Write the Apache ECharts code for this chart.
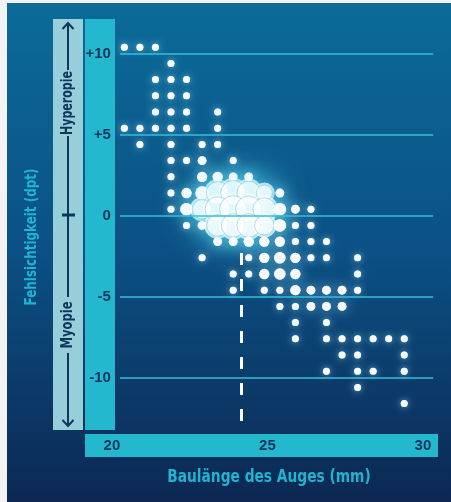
<!DOCTYPE html>
<html><head><meta charset="utf-8">
<script src="https://cdn.jsdelivr.net/npm/echarts@6/dist/echarts.min.js"></script>
<style>html,body{margin:0;padding:0;background:#f3f3f3;}#c{width:451px;height:502px;}</style>
</head><body><div id="c"></div>
<script>
const FONT = "'Liberation Sans',Arial,sans-serif";
const TFONT = "'DejaVu Sans Condensed','DejaVu Sans',sans-serif";
const xTicks = [20, 25, 30];
const yTicks = [-10, -5, 0, 5, 10];
const xTitle = 'Baulänge des Auges (mm)';
const yTitle = 'Fehlsichtigkeit (dpt)';
const upLabel = 'Hyperopie';
const downLabel = 'Myopie';

// one entry per dot: axial length (mm), refraction (dpt), number of eyes (dot size)
const axialLength = [
  20.4, 20.9, 21.4,
  21.9,
  21.4, 21.9, 22.4,
  21.4, 21.9, 22.4,
  21.4, 21.9, 22.4, 23.4,
  20.4, 20.9, 21.4, 21.9, 22.4, 23.4,
  20.9, 21.9, 22.9, 23.4,
  21.9, 22.4, 22.9, 23.9,
  21.9, 22.9, 23.4, 23.9, 24.4,
  21.9, 22.4, 22.9, 23.4, 23.9, 24.4, 24.9, 25.4,
  21.9, 22.4, 22.9, 23.4, 23.9, 24.4, 24.9, 25.4, 25.9, 26.4,
  22.4, 22.9, 23.4, 23.9, 24.4, 24.9, 25.4, 25.9, 26.4,
  23.4, 23.9, 24.4, 24.9, 25.4, 25.9, 26.4, 26.9,
  22.9, 24.4, 24.9, 25.4, 25.9, 26.4, 26.9, 27.9,
  23.9, 24.4, 24.9, 25.4, 25.9, 27.9,
  23.9, 24.9, 25.4, 25.9, 26.4, 26.9, 27.4, 27.9,
  25.4, 25.9, 26.4, 26.9, 27.4,
  25.9, 26.9,
  25.9, 26.9, 27.4, 27.9, 28.4, 28.9, 29.4,
  27.4, 27.9, 29.4,
  26.9, 27.9, 28.4, 29.4,
  27.9,
  29.4
];
const refraction = [
  10.4, 10.4, 10.4,
  9.4,
  8.4, 8.4, 8.4,
  7.4, 7.4, 7.4,
  6.4, 6.4, 6.4, 6.4,
  5.4, 5.4, 5.4, 5.4, 5.4, 5.4,
  4.4, 4.4, 4.4, 4.4,
  3.4, 3.4, 3.4, 3.4,
  2.4, 2.4, 2.4, 2.4, 2.4,
  1.4, 1.4, 1.4, 1.4, 1.4, 1.4, 1.4, 1.4,
  0.4, 0.4, 0.4, 0.4, 0.4, 0.4, 0.4, 0.4, 0.4, 0.4,
  -0.6, -0.6, -0.6, -0.6, -0.6, -0.6, -0.6, -0.6, -0.6,
  -1.6, -1.6, -1.6, -1.6, -1.6, -1.6, -1.6, -1.6,
  -2.6, -2.6, -2.6, -2.6, -2.6, -2.6, -2.6, -2.6,
  -3.6, -3.6, -3.6, -3.6, -3.6, -3.6,
  -4.6, -4.6, -4.6, -4.6, -4.6, -4.6, -4.6, -4.6,
  -5.6, -5.6, -5.6, -5.6, -5.6,
  -6.6, -6.6,
  -7.6, -7.6, -7.6, -7.6, -7.6, -7.6, -7.6,
  -8.6, -8.6, -8.6,
  -9.6, -9.6, -9.6, -9.6,
  -10.6,
  -11.6
];
const eyeCount = [
  1, 1, 1,
  1,
  1, 1, 1,
  1, 1, 1,
  1, 1, 1, 1,
  1, 1, 1, 1, 1, 1,
  1, 1, 1, 1,
  1, 1, 2, 1,
  1, 3, 3, 2, 2,
  1, 3, 6, 20, 25, 22, 9, 2,
  1, 5, 14, 25, 30, 28, 20, 5, 2, 1,
  1, 2, 18, 22, 22, 14, 5, 1, 1,
  2, 2, 3, 3, 3, 1, 1, 1,
  1, 1, 3, 4, 3, 1, 1, 1,
  1, 1, 3, 4, 3, 1,
  1, 1, 1, 3, 2, 2, 2, 1,
  1, 1, 2, 2, 2,
  1, 1,
  1, 1, 1, 1, 1, 1, 1,
  1, 1, 1,
  1, 1, 1, 1,
  1,
  1
];
const meanLength = 24.15;
const meanLineFrom = -2.3;
const meanLineTo = -12.9;

const NAVY = '#10355f';
const TEAL = '#24b8cf';
const size = n => 2.5 + 4.5 * Math.sqrt(n);

const points = axialLength.map((x, i) => [x, refraction[i], eyeCount[i]]);
const glowData = points.map(p => ({
  value: p,
  symbolSize: size(p[2]) + (p[2] >= 9 ? 5 : 0),
  itemStyle: {
    color: '#ffffff',
    shadowBlur: p[2] >= 9 ? 30 : (p[2] >= 2 ? 12 : 7),
    shadowColor: p[2] >= 9 ? 'rgba(70,220,245,1)' : 'rgba(140,232,255,0.9)'
  }
}));
const dotData = points.map(p => ({
  value: p,
  itemStyle: p[2] >= 9
    ? { color: 'rgba(255,255,255,0.85)', borderColor: 'rgba(125,195,215,0.7)', borderWidth: 1 }
    : { color: '#ffffff' }
}));

const txt = (text, x, y, rot, px, sx, fill) => ({
  type: 'text', z: -70, x: x, y: y, rotation: rot, scaleX: sx,
  style: { text: text, fill: fill, font: 'bold ' + px + 'px ' + TFONT, align: 'center', verticalAlign: 'middle' }
});

const chart = echarts.init(document.getElementById('c'), null, { renderer: 'canvas' });
chart.setOption({
  animation: false,
  grid: { left: 111.9, right: 12.55, top: 21.3, bottom: 75.7, containLabel: false },
  xAxis: {
    type: 'value', min: 20, max: 30.5,
    axisLine: { show: false }, axisTick: { show: false }, splitLine: { show: false },
    axisLabel: { customValues: xTicks, margin: 12, color: NAVY, fontFamily: FONT, fontWeight: 'bold', fontSize: 15 }
  },
  yAxis: {
    type: 'value', min: -13, max: 12,
    axisLine: { show: false }, axisTick: { show: false }, splitLine: { show: false },
    axisLabel: { customValues: yTicks, margin: 1, color: NAVY, fontFamily: FONT, fontWeight: 'bold', fontSize: 15,
      formatter: v => (v > 0 ? '+' + v : String(v)) }
  },
  graphic: [
    { type: 'rect', z: -100, shape: { x: 7, y: 3, width: 444, height: 499 },
      style: { fill: new echarts.graphic.LinearGradient(0, 0, 0, 1, [
        { offset: 0, color: '#0b6b98' }, { offset: 0.5, color: '#0b5084' }, { offset: 1, color: '#0c2853' }]) } },
    { type: 'rect', z: -90, shape: { x: 53, y: 19, width: 30, height: 411 }, style: { fill: '#96cfda' } },
    { type: 'rect', z: -90, shape: { x: 85, y: 19, width: 30, height: 411 }, style: { fill: TEAL } },
    { type: 'rect', z: -90, shape: { x: 85, y: 434, width: 353, height: 23 }, style: { fill: TEAL } },
    { type: 'line', z: -80, shape: { x1: 68, y1: 23, x2: 68, y2: 70 }, style: { stroke: NAVY, lineWidth: 2 } },
    { type: 'line', z: -80, shape: { x1: 68, y1: 136, x2: 68, y2: 297 }, style: { stroke: NAVY, lineWidth: 2 } },
    { type: 'line', z: -80, shape: { x1: 68, y1: 353, x2: 68, y2: 426 }, style: { stroke: NAVY, lineWidth: 2 } },
    { type: 'line', z: -80, shape: { x1: 62, y1: 215, x2: 75, y2: 215 }, style: { stroke: NAVY, lineWidth: 3 } },
    { type: 'polyline', z: -80, shape: { points: [[62.5, 29], [68, 23], [73.5, 29]] }, style: { stroke: NAVY, lineWidth: 2, fill: null } },
    { type: 'polyline', z: -80, shape: { points: [[62.5, 420], [68, 426], [73.5, 420]] }, style: { stroke: NAVY, lineWidth: 2, fill: null } },
    txt(upLabel, 68.5, 103, Math.PI / 2, 15, 0.82, NAVY),
    txt(downLabel, 68.5, 325, Math.PI / 2, 15, 0.86, NAVY),
    txt(yTitle, 32, 237, Math.PI / 2, 16, 0.83, '#1fb4cf'),
    txt(xTitle, 269, 478, 0, 17, 0.9, '#1fb4cf')
  ],
  series: [
    {
      type: 'scatter', z: 1, data: [], silent: true,
      markLine: {
        silent: true, symbol: 'none', label: { show: false }, animation: false,
        lineStyle: { color: '#36bfd8', width: 1.6, type: 'solid' },
        data: yTicks.map(v => [{ coord: [20.26, v] }, { coord: [30.33, v] }])
      }
    },
    {
      type: 'scatter', z: 2, silent: true,
      symbolSize: v => size(v[2]),
      data: glowData
    },
    {
      type: 'scatter', z: 3, silent: true,
      symbolSize: v => size(v[2]),
      data: dotData,
      markLine: {
        silent: true, symbol: 'none', label: { show: false }, animation: false,
        lineStyle: { color: '#ffffff', width: 3, type: [12, 14] },
        data: [[{ coord: [meanLength, meanLineFrom] }, { coord: [meanLength, meanLineTo] }]]
      }
    }
  ]
});
</script></body></html>
